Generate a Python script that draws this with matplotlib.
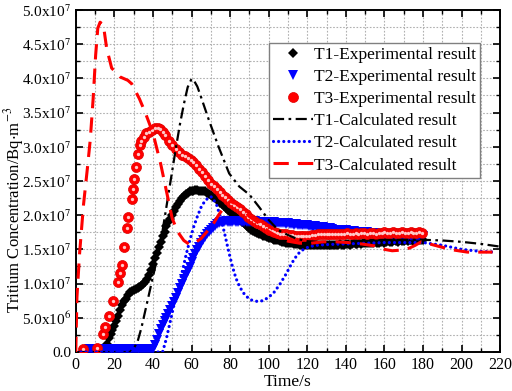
import numpy as np
import matplotlib
matplotlib.use('Agg')
import matplotlib.pyplot as plt
import matplotlib.ticker as plticker

plt.rcParams['font.family'] = ['Liberation Serif', 'DejaVu Serif']
plt.rcParams['mathtext.fontset'] = 'stix'

# -- experimental data (1e7 Bq/m3), T1 and T2 sampled every 1 s
t1_start = 14
t1_exp = [0.03, 0.06, 0.12, 0.2, 0.26, 0.32, 0.38,
          0.45, 0.53, 0.62, 0.69, 0.74, 0.78, 0.83, 0.87, 0.89, 0.91,
          0.92, 0.93, 0.95, 0.97, 1.0, 1.03, 1.07, 1.13, 1.2, 1.28,
          1.37, 1.45, 1.53, 1.61, 1.69, 1.76, 1.84, 1.9, 1.95, 2.0,
          2.06, 2.12, 2.17, 2.21, 2.25, 2.28, 2.31, 2.33, 2.35, 2.36,
          2.36, 2.37, 2.37, 2.36, 2.36, 2.36, 2.35, 2.33, 2.31, 2.29,
          2.27, 2.25, 2.23, 2.21, 2.18, 2.16, 2.13, 2.1, 2.08, 2.05,
          2.03, 2.0, 1.98, 1.95, 1.93, 1.9, 1.88, 1.86, 1.84, 1.81,
          1.79, 1.77, 1.76, 1.74, 1.73, 1.72, 1.7, 1.69, 1.68, 1.67,
          1.66, 1.65, 1.64, 1.64, 1.63, 1.62, 1.61, 1.61, 1.6, 1.6,
          1.59, 1.59, 1.58, 1.58, 1.58, 1.57, 1.57, 1.57, 1.56, 1.56,
          1.56, 1.56, 1.57, 1.56, 1.56, 1.57, 1.56, 1.56, 1.57, 1.56,
          1.57, 1.56, 1.57, 1.57, 1.56, 1.57, 1.58, 1.57, 1.57, 1.58,
          1.58, 1.57, 1.58, 1.59, 1.58, 1.58, 1.59, 1.58, 1.6, 1.59,
          1.59, 1.6, 1.59, 1.6, 1.61, 1.6, 1.6, 1.61, 1.62, 1.6,
          1.61, 1.62, 1.61, 1.61, 1.63, 1.62, 1.61, 1.63, 1.62, 1.62,
          1.63, 1.62, 1.64, 1.63, 1.62, 1.64, 1.63, 1.64, 1.63, 1.64]

t2_start = 7
t2_exp = [0.04, 0.05, 0.04, 0.04, 0.05, 0.04, 0.04, 0.05, 0.04, 0.04,
          0.05, 0.04, 0.04, 0.05, 0.04, 0.04, 0.05, 0.04, 0.04, 0.05,
          0.04, 0.04, 0.05, 0.04, 0.04, 0.05, 0.04, 0.04, 0.05, 0.04,
          0.04, 0.05, 0.04, 0.05,
          0.1, 0.18, 0.26, 0.33, 0.39, 0.45, 0.5, 0.56, 0.61, 0.67,
          0.73, 0.79, 0.86, 0.93, 1.0, 1.06, 1.12, 1.18, 1.24, 1.31,
          1.37, 1.43, 1.49, 1.54, 1.59, 1.64, 1.68, 1.72, 1.75, 1.78,
          1.81, 1.84, 1.87, 1.89, 1.9, 1.9, 1.9, 1.91, 1.9, 1.9,
          1.9, 1.91, 1.9, 1.9, 1.91, 1.9, 1.9, 1.91, 1.9, 1.9,
          1.9, 1.9, 1.91, 1.9, 1.9, 1.89, 1.9, 1.9, 1.89, 1.9,
          1.89, 1.89, 1.9, 1.89, 1.88, 1.89, 1.88, 1.88, 1.87, 1.88,
          1.87, 1.87, 1.86, 1.87, 1.86, 1.86, 1.85, 1.86, 1.85, 1.85,
          1.84, 1.84, 1.83, 1.84, 1.83, 1.82, 1.82, 1.83, 1.81, 1.81,
          1.8, 1.81, 1.8, 1.79, 1.79, 1.78, 1.79, 1.78, 1.77, 1.78,
          1.77, 1.77, 1.76, 1.77, 1.76, 1.75, 1.76, 1.75, 1.75, 1.74,
          1.75, 1.74, 1.74, 1.73, 1.74, 1.73, 1.73, 1.72, 1.73, 1.72,
          1.72, 1.73, 1.72, 1.71, 1.72, 1.71, 1.72, 1.71, 1.71, 1.7,
          1.71, 1.7, 1.71, 1.7, 1.7, 1.71, 1.7, 1.7, 1.71, 1.7]

t3_time_early = [3.6, 11.2, 14.0, 15.3, 17.0, 19.4, 22.0, 22.7, 24.1, 25.0,
                 26.4, 27.0, 28.9, 29.6, 30.1, 31.0, 32.4, 33.2, 33.9, 35.3,
                 36.5, 38.2, 39.6, 41.3, 42.7, 43.9, 45.1, 46.5, 48.2, 50.0,
                 51.7, 53.4, 55.1]
t3_exp_early = [0.05, 0.06, 0.26, 0.37, 0.52, 0.74, 1.03, 1.15, 1.27, 1.54,
                1.81, 1.97, 2.24, 2.38, 2.53, 2.71, 2.89, 3.02, 3.09, 3.14,
                3.2, 3.22, 3.24, 3.27, 3.28, 3.26, 3.22, 3.17, 3.09, 3.03,
                2.97, 2.92, 2.88]
t3_late_start = 56.5  # then every 1.5 s
t3_exp_late = [2.86, 2.83, 2.8, 2.77, 2.73, 2.68, 2.63, 2.57, 2.51, 2.46,
               2.42, 2.38, 2.34, 2.3, 2.26, 2.22, 2.18, 2.15, 2.12, 2.09,
               2.05, 2.01, 1.97, 1.94, 1.91, 1.89, 1.87, 1.84, 1.81, 1.79,
               1.77, 1.75, 1.74, 1.73, 1.72, 1.72, 1.71, 1.71, 1.7, 1.7,
               1.7, 1.69, 1.7, 1.7, 1.71, 1.71, 1.72, 1.72, 1.72, 1.73,
               1.72, 1.73, 1.73, 1.72, 1.73, 1.73, 1.74, 1.73, 1.73, 1.74,
               1.73, 1.74, 1.74, 1.73, 1.74, 1.74, 1.73, 1.74, 1.74, 1.75,
               1.74, 1.74, 1.75, 1.74, 1.74, 1.75, 1.74, 1.74, 1.75, 1.74,
               1.74, 1.75, 1.74]

# -- calculated curves
t1c_t = [0, 28, 30, 32, 34, 36, 38, 40, 42, 44, 46, 48, 50, 52, 54, 56, 58, 60, 61,
         63, 65, 69, 74, 79.5, 84.7, 90, 95, 100, 105, 110, 115, 120, 130, 140,
         150, 160, 170, 180, 190, 200, 210, 220]
t1c_v = [0, 0, 0.05, 0.15, 0.35, 0.6, 0.85, 1.1, 1.35, 1.6, 1.95, 2.3, 2.65, 3.0, 3.33,
         3.62, 3.87, 3.99, 3.98, 3.88, 3.72, 3.39, 3.0, 2.61, 2.42, 2.3, 2.12, 1.93,
         1.78, 1.71, 1.65, 1.62, 1.6, 1.61, 1.62, 1.63, 1.64, 1.64, 1.63, 1.61,
         1.58, 1.54]

t2c_t = [0, 45, 47, 49, 51, 53, 55, 57, 59, 61, 63, 65, 67, 69, 70, 71, 73, 75, 77,
         79, 81, 83, 85, 87, 89, 91, 94, 97, 100, 103, 106, 109, 112, 115, 118,
         121, 125, 130, 140, 150, 160, 170, 180, 190, 200, 210, 218]
t2c_v = [0, 0, 0.2, 0.45, 0.7, 0.92, 1.15, 1.4, 1.62, 1.82, 1.98, 2.12, 2.21, 2.26,
         2.27, 2.25, 2.15, 1.97, 1.75, 1.5, 1.27, 1.08, 0.95, 0.86, 0.8, 0.76, 0.74,
         0.75, 0.8, 0.88, 1.0, 1.14, 1.3, 1.43, 1.5, 1.54, 1.56, 1.57, 1.58, 1.59,
         1.6, 1.6, 1.6, 1.56, 1.5, 1.47, 1.46]

t3c_t = [0, 0.6, 2, 4, 6, 7.5, 9, 10.3, 11.4, 12.6, 14.3, 16, 18.6, 23, 27, 29, 33,
         36, 40, 44, 47, 50, 53, 56, 59, 62, 65, 68, 71, 74, 77, 80, 83, 86, 90,
         95, 100, 105, 110, 116, 122, 128, 135, 141, 148, 155, 160, 164, 169, 173,
         176, 179, 182, 190, 196, 203, 210, 216]
t3c_v = [0, 0.8, 1.45, 2.15, 2.68, 3.1, 3.7, 4.34, 4.73, 4.82, 4.78, 4.44, 4.15, 4.02,
         3.97, 3.92, 3.7, 3.5, 3.2, 2.75, 2.35, 1.95, 1.75, 1.63, 1.57, 1.6, 1.66,
         1.76, 1.86, 2.0, 2.12, 2.2, 2.17, 2.1, 1.98, 1.88, 1.76, 1.68, 1.62, 1.59,
         1.59, 1.61, 1.61, 1.6, 1.58, 1.55, 1.5, 1.48, 1.49, 1.52, 1.56, 1.61, 1.59,
         1.53, 1.49, 1.46, 1.46, 1.46]

scale = 1e7
t1_time = t1_start + np.arange(len(t1_exp))
t2_time = t2_start + np.arange(len(t2_exp))
t3_time = np.concatenate([t3_time_early, t3_late_start + 1.5 * np.arange(len(t3_exp_late))])
t3_exp = np.concatenate([t3_exp_early, t3_exp_late])

fig = plt.figure(figsize=(5.12, 3.91), dpi=100)
ax = fig.add_axes([0.148, 0.0997, 0.829, 0.875])

ax.plot(t1_time, np.array(t1_exp) * scale, 'D', color='black', ms=5, mew=0,
        label='T1-Experimental result', zorder=4)
ax.plot(t2_time, np.array(t2_exp) * scale, 'v', color='#0000ff', ms=7, mew=0,
        label='T2-Experimental result', zorder=4)
ax.plot(t3_time, t3_exp * scale, 'o', color='#ff0000', mec='#e00000', ms=7.2, mew=0.5,
        label='T3-Experimental result', zorder=5)
ax.plot(t3_time, t3_exp * scale, 'o', color='#ffc8c8', ms=2.4, mew=0, zorder=6)

ax.plot(t1c_t, np.array(t1c_v) * scale, color='black', lw=1.6,
        dashes=(5, 2, 1.2, 2), label='T1-Calculated result', zorder=7)
ax.plot(t2c_t, np.array(t2c_v) * scale, color='#0000ff', lw=2.3,
        dashes=(0.01, 1.6), dash_capstyle='round', label='T2-Calculated result', zorder=7)
ax.plot(t3c_t, np.array(t3c_v) * scale, color='#ff0000', lw=2.2,
        dashes=(5, 3), label='T3-Calculated result', zorder=7)

ax.set_xlim(0, 220)
ax.set_ylim(0, 5e7)
ax.xaxis.set_major_locator(plticker.MultipleLocator(20))
ax.xaxis.set_minor_locator(plticker.MultipleLocator(10))
ax.yaxis.set_major_locator(plticker.MultipleLocator(5e6))
ax.yaxis.set_minor_locator(plticker.MultipleLocator(2.5e6))


def sci_fmt(v, pos):
    if abs(v) < 1:
        return '0.0'
    if v < 0:
        return ''
    e = int(np.floor(np.log10(v) + 1e-9))
    return r'%.1fx10$^{%d}$' % (v / 10 ** e, e)


ax.yaxis.set_major_formatter(plticker.FuncFormatter(sci_fmt))
ax.tick_params(which='both', direction='in', top=True, right=True)
ax.tick_params(axis='x', labelsize=11.5)
ax.tick_params(axis='y', labelsize=11)
ax.tick_params(which='major', length=5, width=1.2)
ax.tick_params(which='minor', length=3, width=1.0)
ax.grid(which='both', color='#b0b0b0', linestyle=(0, (1.5, 1.5)), linewidth=0.8)
ax.set_axisbelow(True)
for s in ax.spines.values():
    s.set_linewidth(1.4)

ax.set_xlabel('Time/s', fontsize=12.5, labelpad=1)
ax.set_ylabel(r'Tritium Concentration/Bq$\cdot$m$^{-3}$', fontsize=12)
ax.yaxis.set_label_coords(-0.118, 0.415)

leg = ax.legend(loc='upper right', bbox_to_anchor=(0.953, 0.904), borderaxespad=0,
                fontsize=12.5, numpoints=1, handlelength=2.3, handletextpad=0.05,
                borderpad=0.25, labelspacing=0.34, fancybox=False, framealpha=1,
                edgecolor='#808080')
leg.get_frame().set_linewidth(1.0)

plt.savefig('out.png', dpi=100)
